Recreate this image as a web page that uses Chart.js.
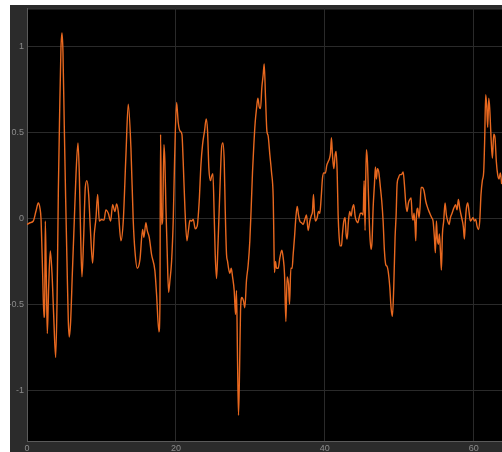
<!DOCTYPE html>
<html>
<head>
<meta charset="utf-8">
<script src="https://cdn.jsdelivr.net/npm/chart.js@4/dist/chart.umd.min.js"></script>
<style>
  html, body { margin: 0; padding: 0; background: #ffffff; }
  #wrap { position: relative; width: 502px; height: 452px; }
</style>
</head>
<body>
<div id="wrap"><canvas id="c" width="502" height="452"></canvas></div>
<script>
// Sample times (s)
const sampleTimes = [
  0, 0.40, 0.85, 1.21, 1.52, 1.74, 1.88, 2.10, 2.28, 2.37, 2.46, 2.60, 2.73, 2.91, 3.13, 3.36, 3.58, 3.85,
  4.03, 4.21, 4.38, 4.56, 4.70, 4.83, 5.01, 5.19, 5.37, 5.55, 5.68, 5.86, 6.09, 6.35, 6.58, 6.85, 7.02,
  7.20, 7.38, 7.61, 7.83, 8.05, 8.28, 8.50, 8.81, 9.04, 9.26, 9.49, 9.71, 10.02, 10.34, 10.60, 10.92,
  11.23, 11.50, 11.81, 12.04, 12.26, 12.62, 12.93, 13.29, 13.60, 13.96, 14.27, 14.50, 14.81, 15.17,
  15.53, 15.70, 15.97, 16.15, 16.42, 16.73, 17.18, 17.40, 17.72, 17.85, 17.94, 18.08, 18.21, 18.39,
  18.52, 18.66, 18.84, 19.02, 19.20, 19.42, 19.64, 19.82, 20.09, 20.31, 20.54, 20.81, 20.98, 21.21,
  21.48, 21.70, 21.88, 22.10, 22.33, 22.60, 22.86, 23.13, 23.36, 23.58, 23.85, 24.07, 24.25, 24.43,
  24.65, 24.79, 24.97, 25.15, 25.28, 25.46, 25.64, 25.77, 25.95, 26.13, 26.31, 26.49, 26.62, 26.80,
  26.94, 27.07, 27.25, 27.43, 27.61, 27.83, 28.01, 28.14, 28.28, 28.41, 28.55, 28.68, 28.86, 29.08,
  29.26, 29.48, 29.71, 29.93, 30.11, 30.29, 30.47, 30.65, 30.83, 31.01, 31.19, 31.37, 31.54, 31.72,
  31.86, 32.04, 32.22, 32.39, 32.62, 32.84, 33.07, 33.15, 33.24, 33.38, 33.51, 33.74, 33.96, 34.23,
  34.41, 34.59, 34.77, 34.94, 35.12, 35.26, 35.44, 35.61, 35.75, 35.93, 36.11, 36.29, 36.47, 36.64,
  36.87, 37.09, 37.32, 37.54, 37.76, 37.99, 38.21, 38.34, 38.48, 38.61, 38.75, 38.97, 39.15, 39.33,
  39.51, 39.69, 39.87, 40.09, 40.27, 40.45, 40.63, 40.76, 40.89, 41.03, 41.21, 41.39, 41.52, 41.66,
  41.79, 41.93, 42.06, 42.24, 42.37, 42.55, 42.73, 42.86, 43.00, 43.18, 43.35, 43.53, 43.71, 43.89,
  44.07, 44.25, 44.43, 44.61, 44.79, 44.97, 45.15, 45.28, 45.41, 45.50, 45.59, 45.73, 45.86, 46.04,
  46.22, 46.35, 46.49, 46.67, 46.80, 46.94, 47.07, 47.25, 47.47, 47.65, 47.83, 48.01, 48.19, 48.37,
  48.55, 48.73, 48.90, 49.08, 49.26, 49.44, 49.58, 49.71, 49.89, 50.07, 50.29, 50.52, 50.69, 50.87,
  51.05, 51.23, 51.41, 51.59, 51.72, 51.86, 51.99, 52.13, 52.22, 52.30, 52.48, 52.66, 52.80, 52.93,
  53.11, 53.33, 53.56, 53.83, 54.10, 54.36, 54.54, 54.72, 54.85, 54.99, 55.12, 55.26, 55.39, 55.53,
  55.66, 55.80, 55.97, 56.15, 56.33, 56.51, 56.69, 56.87, 57.09, 57.32, 57.58, 57.76, 57.94, 58.12,
  58.30, 58.48, 58.61, 58.75, 58.88, 59.02, 59.20, 59.37, 59.55, 59.73, 59.91, 60.09, 60.27, 60.45,
  60.63, 60.81, 60.98, 61.16, 61.34, 61.48, 61.61, 61.74, 61.88, 62.02, 62.15, 62.33, 62.51, 62.69,
  62.86, 63.04, 63.22, 63.40, 63.58, 63.76
];

// Measured signal
const signalValues = [
  -0.035, -0.025, -0.015, 0.043, 0.09, 0.06, 0, -0.32, -0.576, -0.52, -0.015, -0.36, -0.67, -0.40, -0.19,
  -0.32, -0.56, -0.81,
  -0.50, 0.16, 0.60, 0.99, 1.08, 0.97, 0.53, 0.12, -0.25, -0.60, -0.69, -0.60, -0.32, -0.015, 0.255, 0.44, 0.27,
  -0.09, -0.34, -0.11, 0.18, 0.22, 0.14, -0.05, -0.26, -0.09, 0.0, 0.14, -0.015, -0.006, -0.01, 0.05, 0.03,
  -0.015, 0.08, 0.04, 0.085, 0.04, -0.13, -0.015, 0.37, 0.665, 0.41, -0.015, -0.19, -0.29, -0.24,
  -0.064, -0.11, -0.025, -0.07, -0.11, -0.21, -0.305, -0.44, -0.66, -0.52, 0.49, -0.035, -0.015, 0.43,
  0.33, 0.06, -0.21, -0.43, -0.36, -0.25, -0.015, 0.33, 0.675, 0.56, 0.51, 0.49, 0.33, 0.06,
  -0.13, -0.064, -0.01, -0.015, -0.006, -0.06, -0.045, 0.10, 0.31, 0.43, 0.51, 0.58, 0.51, 0.29,
  0.22, 0.245, 0.26, 0.004, -0.21, -0.35, -0.17, -0.006, 0.22, 0.41, 0.44, 0.33, 0.06, -0.21,
  -0.25, -0.29, -0.32, -0.29, -0.34, -0.42, -0.56, -0.42, -0.83, -1.146, -0.885, -0.54, -0.46, -0.48,
  -0.52, -0.36, -0.27, -0.13, 0.06, 0.27, 0.43, 0.56, 0.64, 0.70, 0.65, 0.64, 0.76, 0.835,
  0.90, 0.70, 0.51, 0.48, 0.37, 0.27, 0.12, -0.09, -0.315, -0.25, -0.29, -0.29, -0.23, -0.185,
  -0.23, -0.325, -0.60, -0.34, -0.38, -0.50, -0.29, -0.29, -0.21, -0.11, 0.004, 0.07, 0.02, -0.015,
  -0.025, -0.035, -0.006, 0.02, -0.07, -0.015, 0.02, 0.04, 0.14, 0.03, -0.015, 0.004, 0.04, 0.03,
  0.12, 0.235, 0.265, 0.265, 0.31, 0.33, 0.35, 0.38, 0.47, 0.37, 0.29, 0.37, 0.39, 0.27,
  0.02, -0.11, -0.16, -0.16, -0.09, -0.015, 0.004, -0.09, -0.12, -0.015, 0.04, 0.014, 0.06, 0.08,
  0.014, -0.015, -0.025, 0.004, 0.03, 0.03, 0.02, 0.22, -0.07, 0.235, 0.40, 0.33, 0.14, -0.09,
  -0.18, -0.13, 0.06, 0.20, 0.30, 0.23, 0.29, 0.27, 0.18, 0.10, -0.015, -0.19, -0.27, -0.28,
  -0.32, -0.40, -0.52, -0.57, -0.40, -0.11, 0.02, 0.20, 0.235, 0.255, 0.255, 0.27, 0.20, 0.09,
  0.04, 0.09, 0.11, 0.12, 0.02, -0.01, 0.03, -0.05, -0.13, 0.004, 0.06, 0.004, 0.07, 0.18,
  0.18, 0.16, 0.10, 0.06, 0.03, 0.004, -0.015, -0.11, -0.20, -0.015, -0.12, -0.15, -0.09, -0.19,
  -0.30, -0.09, -0.015, 0.09, 0.02, -0.015, -0.035, 0.004, 0.03, 0.06, 0.08, 0.05, 0.11, 0.06,
  0.02, -0.015, -0.05, -0.12, -0.015, 0.06, 0.09, 0.04, -0.015, -0.006, 0.004, -0.015, -0.006, -0.045,
  -0.064, -0.015, 0.14, 0.22, 0.27, 0.47, 0.72, 0.66, 0.53, 0.70, 0.64, 0.47, 0.35, 0.49,
  0.47, 0.33, 0.255, 0.23, 0.265, 0.20
];

// Axis ticks
const xTickValues = [0, 20, 40, 60];
const yTickValues = [-1, -0.5, 0, 0.5, 1];
const yTickLabels = ['-1', '-0.5', '0', '0.5', '1'];

const points = sampleTimes.map((t, i) => ({ x: t, y: signalValues[i] }));

// Scope-style backdrop: white page, dark grey panel, black plotting area
const scopeBackdrop = {
  id: 'scopeBackdrop',
  beforeDraw(chart) {
    const { ctx, chartArea: a } = chart;
    ctx.save();
    ctx.fillStyle = '#ffffff';
    ctx.fillRect(0, 0, chart.width, chart.height);
    ctx.fillStyle = '#2b2b2b';
    ctx.fillRect(10, 5, chart.width - 10, chart.height - 5);
    ctx.fillStyle = '#000000';
    ctx.fillRect(a.left, a.top, a.right - a.left, a.bottom - a.top);
    ctx.strokeStyle = '#454545';
    ctx.lineWidth = 1;
    ctx.beginPath();
    ctx.moveTo(a.left, a.top + 0.5);
    ctx.lineTo(a.right, a.top + 0.5);
    ctx.stroke();
    ctx.restore();
  }
};

new Chart(document.getElementById('c'), {
  type: 'line',
  data: {
    datasets: [{
      data: points,
      borderColor: '#e8681f',
      borderWidth: 1.4,
      pointRadius: 0,
      cubicInterpolationMode: 'monotone',
      fill: false
    }]
  },
  options: {
    responsive: false,
    animation: false,
    parsing: true,
    layout: { padding: { left: 10, top: 6.5, right: 0, bottom: 0 } },
    plugins: { legend: { display: false }, tooltip: { enabled: false } },
    scales: {
      x: {
        type: 'linear',
        min: 0,
        max: 63.8,
        afterBuildTicks(scale) { scale.ticks = xTickValues.map(v => ({ value: v })); },
        afterFit(scale) { scale.height = 10.3; },
        ticks: {
          color: '#8c8c8c',
          font: { family: 'Liberation Sans', size: 9 },
          padding: 1,
          maxRotation: 0,
          autoSkip: false,
          callback: v => String(v)
        },
        grid: { color: '#2a2a2a', lineWidth: 1, drawTicks: false },
        border: { color: '#5a5a5a', width: 1 }
      },
      y: {
        type: 'linear',
        min: -1.3,
        max: 1.223,
        afterBuildTicks(scale) { scale.ticks = yTickValues.map(v => ({ value: v })); },
        afterFit(scale) { scale.width = 17; },
        ticks: {
          color: '#8c8c8c',
          font: { family: 'Liberation Sans', size: 9 },
          padding: 3,
          autoSkip: false,
          callback: (v) => yTickLabels[yTickValues.indexOf(v)]
        },
        grid: { color: '#2a2a2a', lineWidth: 1, drawTicks: false },
        border: { color: '#5a5a5a', width: 1 }
      }
    }
  },
  plugins: [scopeBackdrop]
});
</script>
</body>
</html>
